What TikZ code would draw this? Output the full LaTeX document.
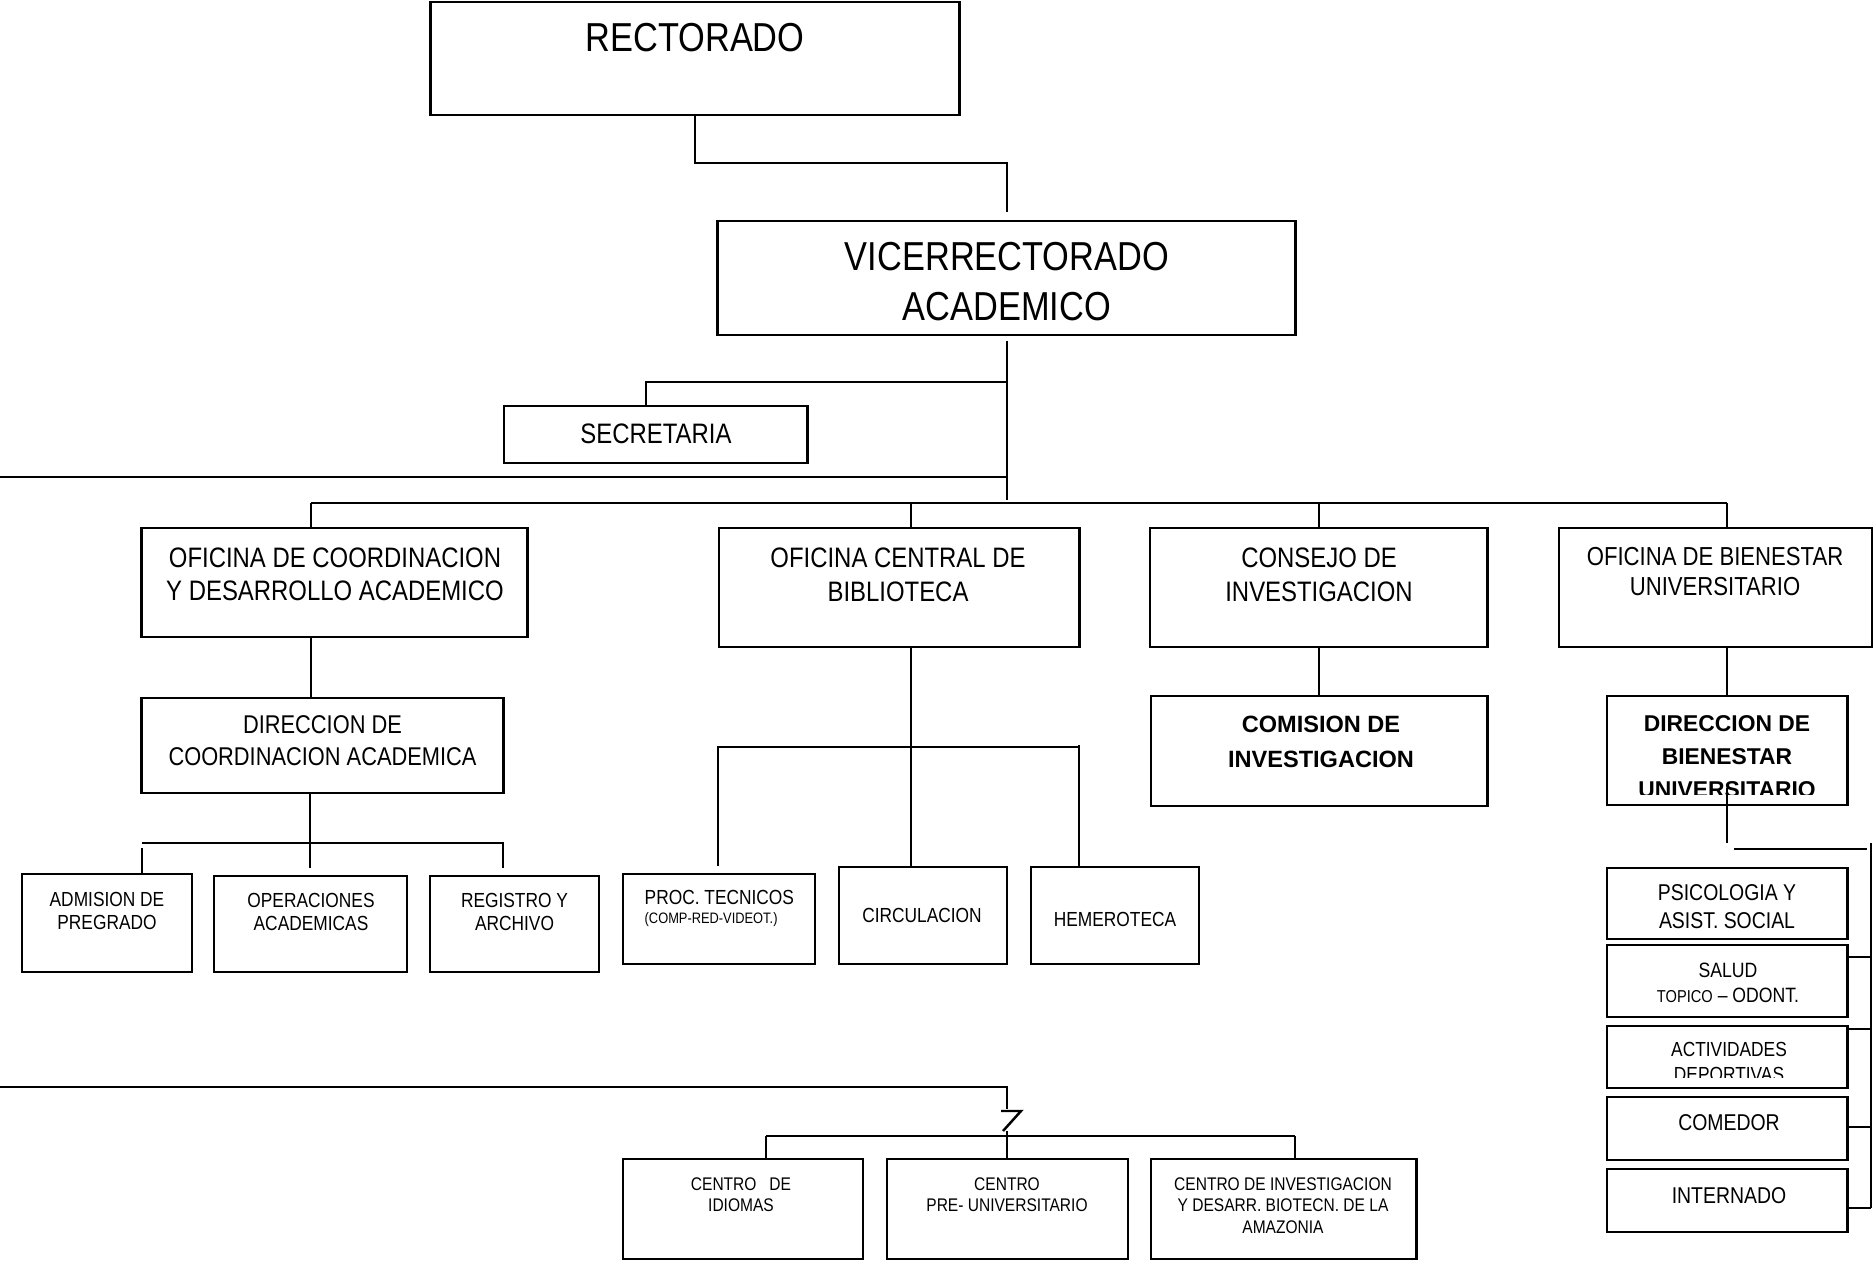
\documentclass[tikz,border=0pt]{standalone}
\usepackage{fontspec}
\setmainfont{Liberation Sans}[FakeStretch=0.85]
\newfontfamily\boldsans{Liberation Sans}
\newcommand{\fsz}[2]{\fontsize{#1}{#2}\selectfont}
\tikzset{
  box/.style={draw, line width=0.8pt, inner sep=0pt},
  txt/.style={inner sep=0pt, align=center, anchor=north},
  con/.style={line width=0.7pt},
}
\begin{document}
\begin{tikzpicture}[x=0.01cm, y=-0.01cm]
\useasboundingbox (0,0) rectangle (1873,1261);

\node[box, minimum width=5.28cm, minimum height=1.13cm] (rect) at (695,58.5) {};
\node[box, minimum width=5.77cm, minimum height=1.14cm] (vice) at (1006.5,278) {};
\node[box, minimum width=3.03cm, minimum height=0.57cm] (secr) at (655.5,434.5) {};
\node[box, minimum width=3.85cm, minimum height=1.09cm] (ocda) at (334.5,582.5) {};
\node[box, minimum width=3.60cm, minimum height=1.19cm] (ocb) at (899,587.5) {};
\node[box, minimum width=3.37cm, minimum height=1.19cm] (cons) at (1318.5,587.5) {};
\node[box, minimum width=3.13cm, minimum height=1.19cm] (obu) at (1715.5,587.5) {};
\node[box, minimum width=3.61cm, minimum height=0.95cm] (dca) at (322.5,745.5) {};
\node[box, minimum width=3.36cm, minimum height=1.10cm] (comi) at (1319,751) {};
\node[box, minimum width=2.40cm, minimum height=1.09cm] (dbu) at (1727,750.5) {};
\node[box, minimum width=1.70cm, minimum height=0.98cm] (adm) at (107,923) {};
\node[box, minimum width=1.93cm, minimum height=0.96cm] (ope) at (310.5,924) {};
\node[box, minimum width=1.69cm, minimum height=0.96cm] (reg) at (514.5,924) {};
\node[box, minimum width=1.92cm, minimum height=0.90cm] (proc) at (719,919) {};
\node[box, minimum width=1.68cm, minimum height=0.97cm] (circ) at (923,915.5) {};
\node[box, minimum width=1.68cm, minimum height=0.97cm] (heme) at (1115,915.5) {};
\node[box, minimum width=2.40cm, minimum height=0.71cm] (psic) at (1727,903.5) {};
\node[box, minimum width=2.40cm, minimum height=0.72cm] (salud) at (1727,981) {};
\node[box, minimum width=2.40cm, minimum height=0.62cm] (acti) at (1727,1057) {};
\node[box, minimum width=2.40cm, minimum height=0.63cm] (come) at (1727,1128.5) {};
\node[box, minimum width=2.40cm, minimum height=0.63cm] (inte) at (1727,1200.5) {};
\node[box, minimum width=2.40cm, minimum height=1.00cm] (idio) at (743,1209) {};
\node[box, minimum width=2.41cm, minimum height=1.00cm] (cepu) at (1007.5,1209) {};
\node[box, minimum width=2.65cm, minimum height=1.00cm] (cida) at (1283.5,1209) {};

\node[txt, font=\fsz{11.5}{14}] (rect-t) at (695,23) {RECTORADO};
\node[txt, font=\fsz{11.5}{14.2}] (vice-t) at (1007,242) {VICERRECTORADO\\ACADEMICO};
\node[txt, font=\fsz{8}{9.4}] (secr-t) at (656,423) {SECRETARIA};
\node[txt, font=\fsz{8}{9.4}] (ocda-t) at (335,547) {OFICINA DE COORDINACION\\Y DESARROLLO ACADEMICO};
\node[txt, font=\fsz{8}{9.7}] (ocb-t) at (898,547) {OFICINA CENTRAL DE\\BIBLIOTECA};
\node[txt, font=\fsz{8}{9.7}] (cons-t) at (1319,547) {CONSEJO DE\\INVESTIGACION};
\node[txt, font=\fsz{7.4}{8.5}] (obu-t) at (1715,547) {OFICINA DE BIENESTAR\\UNIVERSITARIO};
\node[txt, font=\fsz{7.3}{9.1}] (dca-t) at (322.5,715) {DIRECCION DE\\COORDINACION ACADEMICA};
\node[txt, font=\boldsans\bfseries\fsz{6.7}{10}] (comi-t) at (1321,715) {COMISION DE\\INVESTIGACION};
\begin{scope}
\clip (1607,696) rectangle (1847,794);
\node[txt, font=\boldsans\bfseries\fsz{6.5}{9.4}] (dbu-t) at (1727,715) {DIRECCION DE\\BIENESTAR\\UNIVERSITARIO};
\end{scope}
\node[txt, font=\fsz{5.8}{6.5}] (adm-t) at (107,892) {ADMISION DE\\PREGRADO};
\node[txt, font=\fsz{5.8}{6.5}] (ope-t) at (311,893) {OPERACIONES\\ACADEMICAS};
\node[txt, font=\fsz{5.8}{6.5}] (reg-t) at (514.5,893) {REGISTRO Y\\ARCHIVO};
\node[txt, align=left, anchor=north west, font=\fsz{5.8}{5.4}] (proc-t) at (644,890) {PROC. TECNICOS\\{\fsz{4.3}{5.4}(COMP-RED-VIDEOT.)}};
\node[txt, font=\fsz{5.8}{6.5}] (circ-t) at (922,908) {CIRCULACION};
\node[txt, font=\fsz{5.8}{6.5}] (heme-t) at (1115,912) {HEMEROTECA};
\node[txt, font=\fsz{6.5}{8}] (psic-t) at (1727,884) {PSICOLOGIA Y\\ASIST. SOCIAL};
\node[txt, font=\fsz{5.9}{7.1}] (salud-t) at (1728,962) {SALUD\\{\fsz{4.9}{7.1}TOPICO} – ODONT.};
\begin{scope}
\clip (1607,1026) rectangle (1847,1077);
\node[txt, font=\fsz{5.8}{7}] (acti-t) at (1729,1042) {ACTIVIDADES\\DEPORTIVAS};
\end{scope}
\node[txt, font=\fsz{6.5}{8}] (come-t) at (1729,1114) {COMEDOR};
\node[txt, font=\fsz{6.5}{8}] (inte-t) at (1729,1187) {INTERNADO};
\node[txt, font=\fsz{5.2}{6.1}] (idio-t) at (741,1177) {CENTRO\ \ \ DE\\IDIOMAS};
\node[txt, font=\fsz{5.2}{6.1}] (cepu-t) at (1007,1177) {CENTRO\\PRE- UNIVERSITARIO};
\node[txt, font=\fsz{5.2}{6.1}] (cida-t) at (1283,1177) {CENTRO DE INVESTIGACION\\Y DESARR. BIOTECN. DE LA\\AMAZONIA};

\coordinate (vtop) at (1007,212);
\coordinate (rj) at (695,163);
\coordinate (vbot) at (1007,341);
\coordinate (sj) at (1007,382);
\coordinate (sx) at (646,382);
\coordinate (wj) at (1007,477);
\coordinate (west) at (0,477);
\coordinate (trunk) at (1007,500);
\coordinate (b1) at (311,503);
\coordinate (b2) at (911,503);
\coordinate (b3) at (1319,503);
\coordinate (b4) at (1727,503);
\draw[con] (rect.south) -- (rj) -| (vtop);
\draw[con] (vbot) -- (trunk);
\draw[con] (sj) -- (sx) -- (secr.north -| sx);
\draw[con] (west) -- (wj);
\draw[con] (b1) -- (b4);
\foreach \b/\n in {b1/ocda, b2/ocb, b3/cons, b4/obu}
  \draw[con] (\b) -- (\n.north -| \b);

\coordinate (d1) at (142,843);
\coordinate (d1s) at (142,848);
\coordinate (d2) at (310,868);
\coordinate (d3) at (503,843);
\coordinate (d3e) at (503,868);
\draw[con] (ocda.south -| b1) -- (dca.north -| b1);
\draw[con] (d1) -- (d3) -- (d3e);
\draw[con] (dca.south -| d2) -- (d2);
\draw[con] (d1s) -- (adm.north -| d1s);

\coordinate (l1) at (718,747);
\coordinate (l1e) at (718,866);
\coordinate (l2e) at (911,866);
\coordinate (l3) at (1079,745);
\coordinate (l3e) at (1079,866);
\draw[con] (ocb.south -| b2) -- (l2e);
\draw[con] (l1e) -- (l1) -- (l1 -| l3);
\draw[con] (l3) -- (l3e);

\draw[con] (cons.south -| b3) -- (comi.north -| b3);
\draw[con] (obu.south -| b4) -- (dbu.north -| b4);

\coordinate (e1) at (1727,788);
\coordinate (e2) at (1727,843);
\coordinate (e3) at (1734,849);
\coordinate (e4) at (1867,849);
\coordinate (rail) at (1871,843);
\coordinate (railend) at (1871,1208);
\draw[con] (e1) -- (e2);
\draw[con] (e3) -- (e4);
\draw[con] (rail) -- (railend);
\foreach \n/\y in {salud/957, acti/1029, come/1127, inte/1208} {
  \coordinate (t-\n) at (1871,\y);
  \draw[con] (t-\n -| \n.east) -- (t-\n);
}

\coordinate (sw) at (0,1087);
\coordinate (sk) at (1007,1087);
\coordinate (sk1) at (1007,1109);
\coordinate (z1) at (1001,1111);
\coordinate (z2) at (1021,1111);
\coordinate (z3) at (1003,1131);
\coordinate (z4) at (1007,1131);
\coordinate (c1) at (766,1136);
\coordinate (c3) at (1295,1136);
\draw[con] (sw) -- (sk) -- (sk1);
\draw[con] (z1) -- (z2) -- (z3);
\draw[con] (z4) -- (cepu.north -| z4);
\draw[con] (c1) -- (c3);
\draw[con] (c1) -- (idio.north -| c1);
\draw[con] (c3) -- (cida.north -| c3);
\end{tikzpicture}
\end{document}
